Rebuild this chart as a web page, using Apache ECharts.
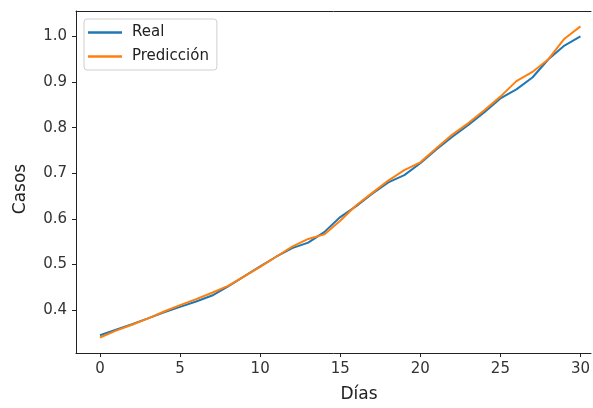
<!DOCTYPE html>
<html>
<head>
<meta charset="utf-8">
<script src="https://cdn.jsdelivr.net/npm/echarts@6/dist/echarts.min.js"></script>
<style>html,body{margin:0;padding:0;background:#fff}#c{width:593px;height:408px}</style>
</head>
<body>
<div id="c"></div>
<script>
var dias = [0,1,2,3,4,5,6,7,8,9,10,11,12,13,14,15,16,17,18,19,20,21,22,23,24,25,26,27,28,29,30];
var real = [0.345,0.357,0.369,0.382,0.395,0.407,0.419,0.432,0.452,0.474,0.496,0.517,0.536,0.548,0.571,0.604,0.628,0.655,0.680,0.696,0.722,0.752,0.780,0.806,0.834,0.864,0.884,0.910,0.950,0.980,1.000];
var prediccion = [0.340,0.355,0.368,0.382,0.397,0.411,0.424,0.438,0.453,0.474,0.495,0.517,0.539,0.556,0.566,0.596,0.630,0.657,0.684,0.707,0.724,0.755,0.785,0.810,0.838,0.868,0.902,0.922,0.950,0.995,1.022];
var xTicks = [0,5,10,15,20,25,30];
var yTicks = [0.4,0.5,0.6,0.7,0.8,0.9,1.0];

function pairs(xs, ys){ return xs.map(function(x,i){ return [x, ys[i]]; }); }

var chart = echarts.init(document.getElementById('c'), null, {renderer:'canvas'});
var font = 'DejaVu Sans';
var xMin = -1.5, xMax = 30.66;
chart.setOption({
  animation: false,
  backgroundColor: '#fff',
  grid: {left: 76, top: 11, right: 0, height: 344.7, show: false, containLabel: false},
  legend: {
    orient: 'vertical', left: 84, top: 19, padding: [6, 8, 6, 4], itemGap: 9,
    itemWidth: 34, itemHeight: 2.5, icon: 'rect',
    backgroundColor: 'rgba(255,255,255,0.8)', borderColor: '#d0d0d0', borderWidth: 1, borderRadius: 3,
    textStyle: {fontFamily: font, fontSize: 15, color: '#222', padding: [0,0,0,5]},
    data: ['Real', 'Predicción']
  },
  xAxis: [{
    type: 'value', min: xMin, max: xMax,
    name: 'Días', nameLocation: 'middle', nameGap: 33,
    nameTextStyle: {fontFamily: font, fontSize: 17, color: '#222', padding: [0,0,0,51]},
    axisLine: {show: true, onZero: false, lineStyle: {color: '#222', width: 1}},
    axisTick: {show: true, length: 4, lineStyle: {color: '#222'}, customValues: xTicks},
    axisLabel: {fontFamily: font, fontSize: 15, color: '#333', margin: 9, customValues: xTicks},
    splitLine: {show: false}
  }, {
    type: 'value', min: xMin, max: xMax, position: 'top',
    axisLine: {show: true, onZero: false, lineStyle: {color: '#222', width: 1}},
    axisTick: {show: false}, axisLabel: {show: false}, splitLine: {show: false}
  }],
  yAxis: {
    type: 'value', min: 0.306, max: 1.0557,
    name: 'Casos', nameLocation: 'middle', nameGap: 47,
    nameTextStyle: {fontFamily: font, fontSize: 17, color: '#222', padding: [0,14,0,0]},
    axisLine: {show: true, onZero: false, lineStyle: {color: '#222', width: 1}},
    axisTick: {show: true, length: 4, lineStyle: {color: '#222'}, customValues: yTicks},
    axisLabel: {fontFamily: font, fontSize: 15, color: '#333', margin: 9, customValues: yTicks,
      formatter: function(v){ return v.toFixed(1); }},
    splitLine: {show: false}
  },
  series: [
    {name: 'Real', type: 'line', data: pairs(dias, real), symbol: 'none', smooth: false,
      lineStyle: {color: '#1f77b4', width: 2}, itemStyle: {color: '#1f77b4'}, z: 2},
    {name: 'Predicción', type: 'line', data: pairs(dias, prediccion), symbol: 'none', smooth: false,
      lineStyle: {color: '#ff7f0e', width: 2}, itemStyle: {color: '#ff7f0e'}, z: 3}
  ]
});
</script>
</body>
</html>
